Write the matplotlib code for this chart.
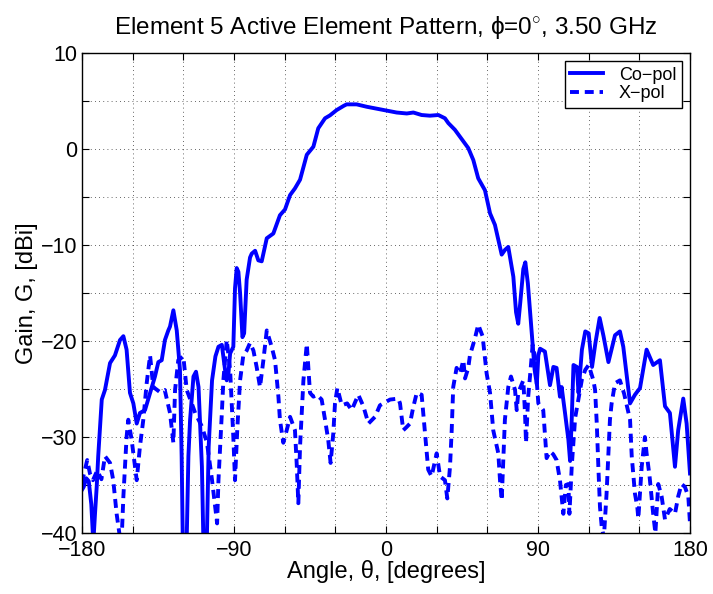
import matplotlib
matplotlib.use("Agg")
import matplotlib.pyplot as plt
import numpy as np

plt.rcParams['font.family'] = ['Liberation Sans', 'DejaVu Sans']
plt.rcParams['mathtext.fontset'] = 'custom'
plt.rcParams['mathtext.rm'] = 'Liberation Sans'

co_angle = [-180, -179, -177.5, -176, -174.5, -173.3, -172.3, -171.3, -170.4, -168.3,
            -166.4, -163.4, -160.5, -157.5, -155.5, -153.6, -151.6, -149.6, -147.6, -145.7,
            -142.7, -139.7, -136.8, -134.8, -132.8, -130.9, -128.9, -127.9, -125.9, -123.9,
            -122, -121, -120, -118.5, -117, -116, -114, -112.5, -111, -109,
            -108, -107, -106, -105, -103, -101, -99.2, -97.2, -95.3, -94.3,
            -93.3, -92.3, -90.4, -89.4, -88.4, -87.4, -86.4, -85, -84, -82.5,
            -80.5, -79.5, -77.5, -75.6, -73.6, -70.6, -66.7, -62.8, -59.8, -56.8,
            -53.9, -50.9, -46.9, -43.0, -40.1, -36.1, -33.2, -29.2, -25, -23.3,
            -17.4, -11.4, -5.5, 0.4, 6.3, 12.3, 16.2, 21.1, 26.0, 31.0,
            34.9, 36.9, 40.8, 45.8, 48.7, 51.7, 54.6, 58.6, 61.6, 64.5,
            68.5, 70.5, 72.4, 75.4, 77, 78.3, 79.5, 81.3, 82.5, 84,
            86, 88, 89.3, 90.2, 91.2, 94.1, 97.1, 99.1, 101, 103,
            104, 106, 108, 109, 110, 111, 113, 114, 116, 118,
            120, 122, 124, 126.5, 128.8, 131.7, 135.6, 138.5, 140.5, 144.5,
            147.4, 150.4, 154.3, 158.2, 162.2, 165.2, 168.1, 171.1, 173, 176,
            178, 180]
co_gain = [-35.5, -35.2, -34.3, -34.6, -37, -41, -38, -35.2, -32, -26.1,
           -25.1, -22.3, -21.5, -19.9, -19.5, -20.9, -25.4, -26.5, -28.6, -27.5,
           -27.2, -25.4, -23.7, -22.2, -22.0, -19.9, -18.9, -18.5, -16.8, -18.9,
           -23.0, -32, -45, -45, -32, -28.2, -23.7, -23.2, -24.8, -33.1,
           -42, -45, -40, -31, -24.1, -21.6, -20.6, -20.4, -23.0, -24.1,
           -23.4, -21.3, -20.6, -14.5, -12.4, -12.8, -15, -19.6, -19.2, -13.6,
           -11.3, -10.9, -10.6, -11.6, -11.7, -9.3, -8.8, -6.9, -6.3, -4.8,
           -4.1, -3.2, -0.6, 0.24, 2.16, 3.2, 3.5, 4.06, 4.5, 4.65,
           4.65, 4.4, 4.2, 4.0, 3.8, 3.7, 3.8, 3.54, 3.47, 3.54,
           3.2, 2.7, 2.0, 0.8, 0.1, -1.15, -3.05, -4.3, -6.7, -7.9,
           -11.0, -10.5, -10.2, -13.3, -17, -18.2, -16, -12.5, -11.8, -14,
           -18.5, -23, -24.5, -21.5, -20.8, -21.1, -24.6, -22.7, -22.8, -25.8,
           -24.8, -27.5, -30.3, -32.5, -28, -22.5, -22.7, -25.4, -20.9, -19.0,
           -19.2, -22.7, -20.2, -17.6, -19.5, -22.2, -19.4, -19.0, -20.6, -26.5,
           -25.6, -24.9, -20.9, -22.5, -22.0, -26.8, -27.5, -33.1, -29.3, -26.0,
           -28.6, -33.8]

x_angle = [-180, -179.2, -176.9, -175.3, -173.5, -171, -168.5, -166.4, -163.4, -161.5,
           -159.5, -157.5, -156.6, -155.5, -153.6, -152.6, -150.6, -147.6, -145.7, -143.7,
           -141.7, -139.7, -137.8, -134, -131, -127.9, -125.9, -124.9, -123, -120,
           -118, -115, -113, -109, -106, -103, -100, -99.2, -97.2, -96.3,
           -94.3, -92.3, -90.4, -89.4, -88, -86.4, -84.5, -82.5, -80.5, -78.5,
           -76.6, -74.6, -72.6, -70.6, -67.7, -65.7, -63.7, -62.8, -60.8, -58.8,
           -56.8, -53.9, -52.9, -51.9, -50.9, -49.9, -48.9, -46.9, -45, -43,
           -41, -38.1, -36.1, -34.2, -32.8, -31.2, -30.2, -28.8, -26.2, -23,
           -20.3, -16.4, -13.4, -10.4, -6.5, -3.6, 2.4, 7.3, 8.3, 10.2,
           12, 14.2, 16, 18.2, 21.1, 23.1, 25.0, 27.0, 30, 32,
           34.9, 36.3, 37.9, 38.9, 39.8, 41.8, 43.8, 45.8, 46.8, 48.7,
           49.7, 52.7, 54.6, 57.2, 59.6, 61.6, 63.5, 66.5, 67.5, 68.5,
           69.4, 70.4, 72.4, 74, 76.4, 77.4, 78.3, 81.3, 82.3, 82.9,
           84.2, 85.7, 86.8, 88.2, 90.2, 93.1, 95.1, 97.1, 99, 101,
           103, 105, 106.5, 108, 108.6, 110, 112, 114, 116, 118,
           120, 122.8, 123.8, 124.8, 125.8, 126.7, 127.7, 129, 130.6, 131.6,
           132.6, 133.6, 135.6, 138.5, 141, 144.5, 145.5, 147.4, 148.8, 149.4,
           151.4, 153.3, 154.3, 156, 158.2, 159.5, 161.2, 163.2, 165.2, 168,
           171.1, 173, 175, 177, 179, 180]
x_gain = [-34.8, -34.1, -32.4, -33.8, -34.5, -33.5, -34.4, -32.0, -32.7, -34.5,
          -38, -40.5, -41, -36.2, -30, -28.2, -30.3, -34.5, -31, -28.2,
          -24.4, -21.5, -24.8, -25.3, -25.1, -27.5, -30.6, -25.1, -22.0, -21.6,
          -25.1, -26.5, -27.5, -28.9, -30.6, -34.5, -39, -34.5, -27.5, -24.1,
          -19.9, -23.0, -30, -34.5, -29, -24.1, -21.5, -21, -20.2, -21,
          -22.7, -24.8, -22.0, -18.9, -20.6, -22.0, -25.8, -28.2, -30.6, -29.3,
          -27.9, -29.3, -32.7, -36.9, -31, -27.5, -24.1, -20.3, -25.4, -25.8,
          -25.6, -26.1, -28.2, -30.3, -32.7, -29.6, -26.5, -24.9, -26.7, -26.5,
          -27.2, -25.6, -26.8, -28.6, -27.9, -26.7, -26.1, -26.0, -26.5, -29.3,
          -29, -28.6, -27, -25.4, -25.6, -29.6, -33.4, -34.1, -31.7, -34.1,
          -34.5, -36.4, -33.1, -29.3, -24.8, -22.8, -23.4, -22.0, -23.9, -22.8,
          -21.5, -19.7, -18.3, -19.5, -23.4, -25.4, -29.3, -31.7, -34.5, -36.6,
          -32.7, -28.2, -24.8, -23.7, -25.1, -27.2, -25.4, -24.1, -27.5, -30.6,
          -25.8, -22.8, -20.4, -21.6, -26.5, -27.2, -32.2, -31.5, -31.8, -32.4,
          -34.5, -38, -35, -34.9, -38, -33, -28, -26, -24, -23,
          -22.5, -24.1, -25.1, -28.6, -33.4, -37.3, -39.3, -40.5, -35.9, -32.0,
          -28.2, -26.5, -24.4, -24.1, -25.5, -28.2, -32, -35.9, -37.3, -38.5,
          -33.1, -30, -31.7, -34, -38, -40, -34.9, -36.2, -38.6, -37.5,
          -38, -36.2, -34.9, -35.2, -36.2, -39]

xticks = np.arange(-180, 181, 30)
xtick_labels = ['−180' if t == -180 else ('−90' if t == -90 else (str(t) if t % 90 == 0 else '')) for t in xticks]
yticks = np.arange(-40, 11, 5)
ytick_labels = [('−%d' % -t if t < 0 else str(t)) if t % 10 == 0 else '' for t in yticks]

fig = plt.figure(figsize=(7.13, 5.94), dpi=100)
ax = fig.add_axes([82/713, 61/594, 608/713, 480/594])

ax.plot(co_angle, co_gain, color='#0000ff', lw=2.8, label='Co\u2212pol')
ax.plot(x_angle, x_gain, color='#0000ff', lw=2.8, linestyle=(0, (2.3, 1.5)), label='X\u2212pol')

ax.set_xlim(-180, 180)
ax.set_ylim(-40, 10)
ax.set_xticks(xticks)
ax.set_xticklabels(xtick_labels)
ax.set_yticks(yticks)
ax.set_yticklabels(ytick_labels)
ax.tick_params(direction='in', top=True, right=True, labelsize=15.5, length=5, width=0.8)
ax.tick_params(axis='x', pad=5)
ax.grid(True, color='k', linestyle=(0, (1, 4)), linewidth=0.6, alpha=0.8)
for s in ax.spines.values():
    s.set_linewidth(1.0)

ax.set_title('Element 5 Active Element Pattern, ϕ=0$^{\\circ}$, 3.50 GHz', fontsize=17.5, pad=14)
ax.set_xlabel('Angle, θ, [degrees]', fontsize=17, labelpad=-1)
ax.set_ylabel('Gain, G, [dBi]', fontsize=17, labelpad=2)

leg = ax.legend(loc='upper right', fontsize=13, frameon=True, fancybox=False,
                edgecolor='k', framealpha=1, borderaxespad=0.45, handlelength=1.8,
                borderpad=0.3, labelspacing=0.1, handletextpad=0.9)
leg.get_frame().set_linewidth(1.0)

fig.savefig('out.png', dpi=100)
